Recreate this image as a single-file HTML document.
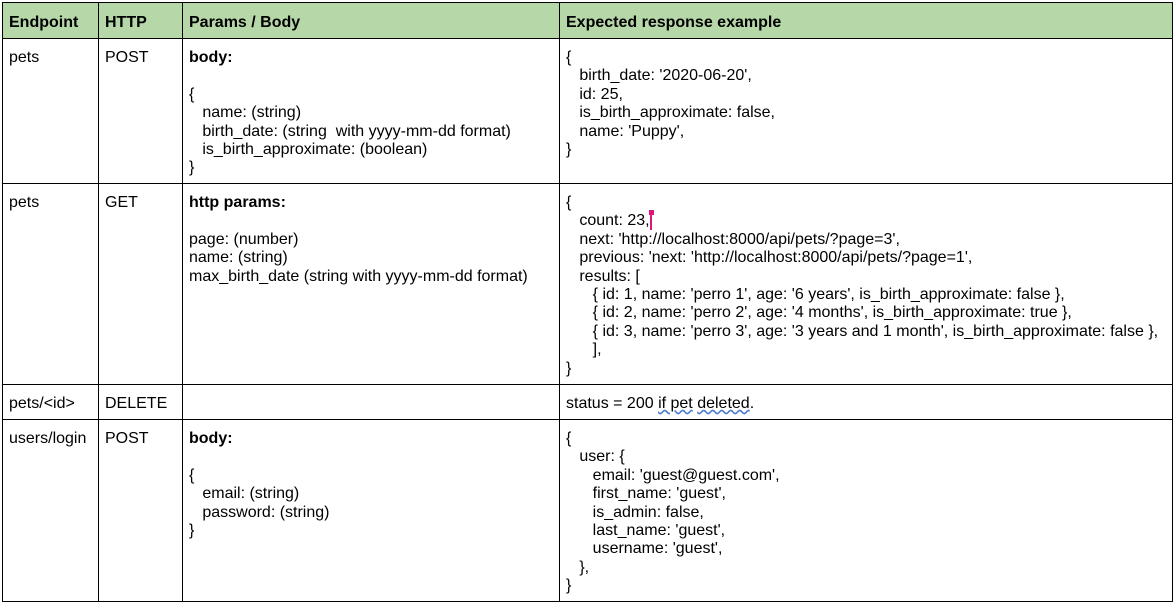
<!DOCTYPE html>
<html><head><meta charset="utf-8"><style>
body{margin:0;width:1175px;height:605px;background:#fff;font-family:"Liberation Sans",Arial,sans-serif;font-size:16px;color:#000;position:relative;overflow:hidden}
.l{position:absolute;background:#000}
.t{position:absolute;line-height:18.4px;white-space:pre}
b{font-weight:bold}
</style></head><body>
<div style="position:absolute;left:2px;top:2px;width:1170px;height:36px;background:#b6d7a8"></div>
<div class="l" style="left:2px;top:2px;width:1171px;height:1px"></div>
<div class="l" style="left:2px;top:38px;width:1171px;height:1px"></div>
<div class="l" style="left:2px;top:183px;width:1171px;height:1px"></div>
<div class="l" style="left:2px;top:384px;width:1171px;height:1px"></div>
<div class="l" style="left:2px;top:419px;width:1171px;height:1px"></div>
<div class="l" style="left:2px;top:601px;width:1171px;height:1px"></div>
<div class="l" style="left:2px;top:2px;width:1px;height:600px"></div>
<div class="l" style="left:98px;top:2px;width:1px;height:600px"></div>
<div class="l" style="left:182px;top:2px;width:1px;height:600px"></div>
<div class="l" style="left:559px;top:2px;width:1px;height:600px"></div>
<div class="l" style="left:1172px;top:2px;width:1px;height:600px"></div>

<div class="t" style="left:9px;top:14px"><b>Endpoint</b></div>
<div class="t" style="left:105px;top:14px"><b>HTTP</b></div>
<div class="t" style="left:189px;top:14px"><b>Params / Body</b></div>
<div class="t" style="left:566px;top:14px"><b>Expected response example</b></div>

<div class="t" style="left:9px;top:49px">pets</div>
<div class="t" style="left:105px;top:49px">POST</div>
<div class="t" style="left:189px;top:49px"><b>body:</b>

{
   name: (string)
   birth_date: (string  with yyyy-mm-dd format)
   is_birth_approximate: (boolean)
}</div>
<div class="t" style="left:566px;top:49px">{
   birth_date: '2020-06-20',
   id: 25,
   is_birth_approximate: false,
   name: 'Puppy',
}</div>

<div class="t" style="left:9px;top:194px">pets</div>
<div class="t" style="left:105px;top:194px">GET</div>
<div class="t" style="left:189px;top:194px"><b>http params:</b>

page: (number)
name: (string)
max_birth_date (string with yyyy-mm-dd format)</div>
<div class="t" style="left:566px;top:194px">{
   count: 23,
   next: 'http://localhost:8000/api/pets/?page=3',
   previous: 'next: 'http://localhost:8000/api/pets/?page=1',
   results: [
      { id: 1, name: 'perro 1', age: '6 years', is_birth_approximate: false },
      { id: 2, name: 'perro 2', age: '4 months', is_birth_approximate: true },
      { id: 3, name: 'perro 3', age: '3 years and 1 month', is_birth_approximate: false },
      ],
}</div>
<div style="position:absolute;left:650px;top:211px;width:2px;height:19px;background:#e0157a"></div>
<div style="position:absolute;left:649px;top:210px;width:5px;height:5px;background:#e0157a"></div>

<div class="t" style="left:9px;top:395px">pets/&lt;id&gt;</div>
<div class="t" style="left:105px;top:395px">DELETE</div>
<div class="t" style="left:566px;top:395px">status = 200 <span style="text-decoration:underline wavy #4a7bd0">if pet</span> <span style="text-decoration:underline wavy #4a7bd0">deleted</span>.</div>

<div class="t" style="left:9px;top:430px">users/login</div>
<div class="t" style="left:105px;top:430px">POST</div>
<div class="t" style="left:189px;top:430px"><b>body:</b>

{
   email: (string)
   password: (string)
}</div>
<div class="t" style="left:566px;top:430px">{
   user: {
      email: 'guest@guest.com',
      first_name: 'guest',
      is_admin: false,
      last_name: 'guest',
      username: 'guest',
   },
}</div>
</body></html>
